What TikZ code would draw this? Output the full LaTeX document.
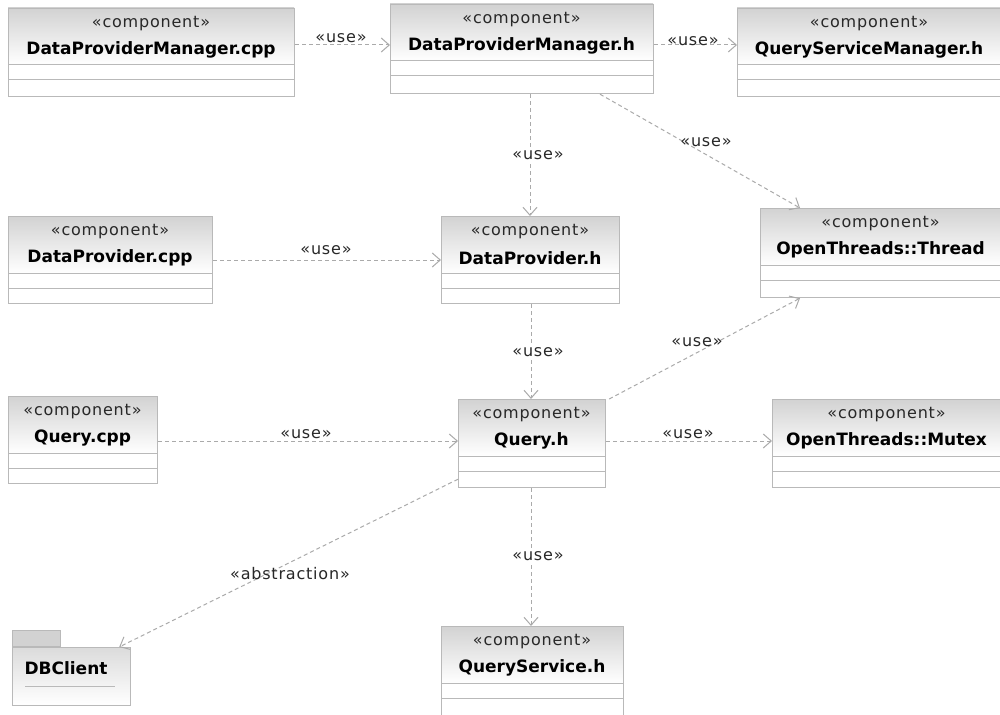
\documentclass[tikz,border=0pt]{standalone}
\usepackage{fontspec}
\setmainfont{DejaVu Sans}
\newfontfamily\lblfont[LetterSpace=5]{DejaVu Sans}
\usetikzlibrary{arrows.meta,calc}
\definecolor{boxc}{RGB}{185,185,185}
\definecolor{hdr}{RGB}{210,210,210}
\definecolor{linec}{RGB}{170,170,170}
\definecolor{txt}{RGB}{40,40,40}
\tikzset{
 compbox/.style={draw=boxc, line width=1.2pt, inner sep=0pt, anchor=north west},
 divider/.style={draw=boxc, line width=1pt},
 stereo/.style={font=\lblfont\fontsize{16}{19}\selectfont, text=txt, inner sep=0pt},
 cname/.style={font=\bfseries\fontsize{17}{20}\selectfont, inner sep=0pt},
 dep/.style={draw=linec, line width=1pt, dash pattern=on 4pt off 3pt, -{Straight Barb[length=8pt,width=14pt,line width=1pt]}},
 deplabel/.style={font=\lblfont\fontsize{16}{19}\selectfont, text=txt, inner sep=1pt},
 vlabel/.style={deplabel, fill=white},
}
\newcommand\comp[6]{%
 \shade[top color=hdr, bottom color=white] (#2,#3) rectangle (#4,#3+57);
 \draw[divider] (#2,#3+57) -- (#4,#3+57) (#2,#3+72) -- (#4,#3+72);
 \node[compbox, minimum width=#4pt-#2pt, minimum height=#5pt-#3pt] (#1) at (#2,#3) {};
 \node[stereo] (#1-s) at ({(#2+#4)/2},#3+16) {«component»};
 \node[cname] (#1-n) at ({(#2+#4)/2},#3+42) {#6};
}
\begin{document}
\begin{tikzpicture}[x=1pt,y=-1pt]
\useasboundingbox (0,0) rectangle (1000,714);
\fill[white] (0,0) rectangle (1000,714);
\comp{dpmcpp}{8}{8}{294}{96}{DataProviderManager.cpp}
\comp{dpmh}{390}{4}{653}{93}{DataProviderManager.h}
\comp{qsm}{737}{8}{1001}{96}{QueryServiceManager.h}
\comp{dpcpp}{8}{216}{212}{303}{DataProvider.cpp}
\comp{dph}{441}{216}{619}{303}{DataProvider.h}
\comp{thread}{760}{208}{1001}{297}{OpenThreads::Thread}
\comp{qcpp}{8}{396}{157}{483}{Query.cpp}
\comp{qh}{458}{399}{605}{487}{Query.h}
\comp{mutex}{772}{399}{1001}{487}{OpenThreads::Mutex}
\comp{qs}{441}{626}{623}{716}{QueryService.h}
% package DBClient
\shade[top color=hdr!80, bottom color=white] (12,647) rectangle (130,705);
\node[draw=boxc, line width=1.2pt, inner sep=0pt, minimum width=118pt, minimum height=58pt, anchor=north west] (dbc) at (12,647) {};
\node[draw=boxc, line width=1.2pt, fill=hdr, inner sep=0pt, minimum width=48pt, minimum height=16pt, anchor=south west] (dbctab) at (12,647) {};
\node[cname] (dbc-n) at (66,668) {DBClient};
\draw[divider] (25,686) -- (115,686);
% dependencies
\draw[dep] ($(dpmcpp.north east)+(0,37)$) -- ($(dpmh.north west)+(0,41)$);
\draw[dep] ($(dpmh.north east)+(0,41)$) -- ($(qsm.north west)+(0,37)$);
\draw[dep] ($(dpmh.south west)+(140,0)$) -- ($(dph.north west)+(89,0)$);
\draw[dep] ($(dpmh.south west)+(210,0)$) -- ($(thread.north west)+(40,0)$);
\draw[dep] ($(dpcpp.north east)+(0,44)$) -- ($(dph.north west)+(0,44)$);
\draw[dep] ($(dph.south west)+(90,0)$) -- ($(qh.north west)+(73,0)$);
\draw[dep] ($(qh.north east)+(3,0)$) -- ($(thread.south west)+(40,0)$);
\draw[dep] ($(qcpp.north east)+(0,45)$) -- ($(qh.north west)+(0,42)$);
\draw[dep] ($(qh.north east)+(0,42)$) -- ($(mutex.north west)+(0,42)$);
\draw[dep] ($(qh.south west)+(0,-9)$) -- ($(dbc.north east)+(-12,0)$);
\draw[dep] ($(qh.south west)+(73,0)$) -- ($(qs.north west)+(90,0)$);
% labels
\node[deplabel] (l1) at (341,38) {«use»};
\node[deplabel] (l2) at (693,41) {«use»};
\node[vlabel] (l3) at (538,155) {«use»};
\node[deplabel] (l4) at (706,142) {«use»};
\node[deplabel] (l5) at (326,250) {«use»};
\node[vlabel] (l6) at (538,352) {«use»};
\node[deplabel] (l7) at (697,342) {«use»};
\node[deplabel] (l8) at (306,434) {«use»};
\node[deplabel] (l9) at (688,434) {«use»};
\node[deplabel] (l10) at (290,574) {«abstraction»};
\node[vlabel] (l11) at (538,556) {«use»};
\end{tikzpicture}
\end{document}
